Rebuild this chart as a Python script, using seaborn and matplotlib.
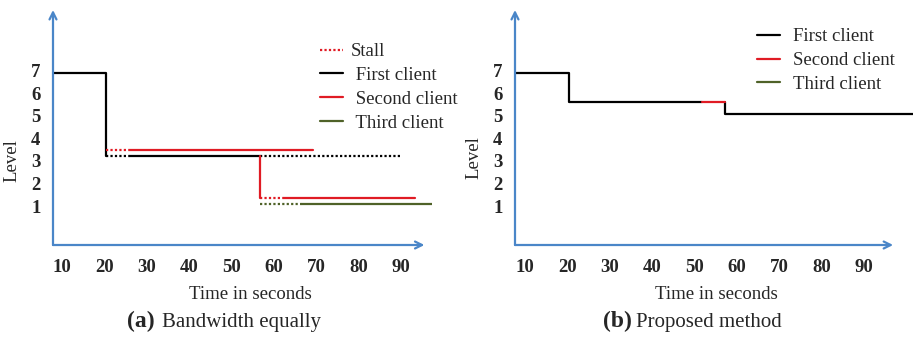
import matplotlib
matplotlib.use('Agg')
import matplotlib.pyplot as plt
import pandas as pd
import seaborn as sns
from matplotlib.lines import Line2D

sns.set_style('white')
plt.rcParams['font.family'] = ['Liberation Serif', 'DejaVu Serif']

# Levels, each path is a list of (time, level) points
# (a) bandwidth shared equally
a_first_play = [[(7.9, 6.9), (20.4, 6.9), (20.4, 3.22)],
                [(26.1, 3.22), (56.8, 3.22)]]
a_first_stall = [[(20.4, 3.22), (26.1, 3.22)],
                 [(56.8, 3.22), (90.3, 3.22)]]
a_second_play = [[(26.1, 3.49), (69.3, 3.49)],
                 [(56.8, 3.22), (56.8, 1.36)],
                 [(62.4, 1.36), (93.4, 1.36)]]
a_second_stall = [[(20.4, 3.49), (26.1, 3.49)],
                  [(56.8, 1.36), (62.4, 1.36)]]
a_third_play = [[(66.7, 1.09), (97.4, 1.09)]]
a_third_stall = [[(56.8, 1.09), (66.7, 1.09)]]

# (b) proposed method
b_first_play = [[(7.6, 6.9), (20.4, 6.9), (20.4, 5.62), (51.7, 5.62)],
                [(57.2, 5.62), (57.2, 5.09), (101.6, 5.09)]]
b_second_play = [[(51.7, 5.62), (57.2, 5.62)]]

x_ticks = [10, 20, 30, 40, 50, 60, 70, 80, 90]
y_ticks = [1, 2, 3, 4, 5, 6, 7]

colors = {'First client': 'black', 'Second client': '#e01b24', 'Third client': '#4f6228'}
blue = '#4a86c8'


def to_rows(paths, client, kind):
    rows = []
    for i, path in enumerate(paths):
        for t, lvl in path:
            rows.append({'client': client, 'kind': kind, 'seg': f'{client}-{kind}-{i}',
                         't': t, 'level': lvl})
    return rows


df_a = pd.DataFrame(to_rows(a_first_play, 'First client', 'play')
                    + to_rows(a_first_stall, 'First client', 'stall')
                    + to_rows(a_second_play, 'Second client', 'play')
                    + to_rows(a_second_stall, 'Second client', 'stall')
                    + to_rows(a_third_play, 'Third client', 'play')
                    + to_rows(a_third_stall, 'Third client', 'stall'))
df_b = pd.DataFrame(to_rows(b_first_play, 'First client', 'play')
                    + to_rows(b_second_play, 'Second client', 'play'))


def draw_panel(ax, df, xlim, arrow_end):
    sns.lineplot(data=df, x='t', y='level', hue='client', style='kind', units='seg',
                 estimator=None, sort=False, palette=colors,
                 dashes={'play': '', 'stall': (1, 1)}, linewidth=1.6, legend=False, ax=ax)
    ax.set_xlim(*xlim)
    ax.set_ylim(-0.733, 9.71)
    for s in ax.spines.values():
        s.set_visible(False)
    arrow = dict(arrowstyle='->,head_length=0.5,head_width=0.25', color=blue, lw=1.6,
                 shrinkA=0, shrinkB=0)
    ax.annotate('', xy=(0, 1), xytext=(0, 0), xycoords='axes fraction',
                arrowprops=arrow, annotation_clip=False)
    ax.annotate('', xy=(arrow_end, 0), xytext=(0, 0), xycoords='axes fraction',
                arrowprops=arrow, annotation_clip=False)
    ax.set_xticks(x_ticks)
    ax.set_xticklabels([str(v) for v in x_ticks], fontweight='bold', fontsize=13.5)
    ax.set_yticks(y_ticks)
    ax.set_yticklabels([str(v) for v in y_ticks], fontweight='bold', fontsize=13.5)
    ax.tick_params(axis='x', length=0, pad=10)
    ax.tick_params(axis='y', length=0, pad=9)
    ax.set_xlabel('Time in seconds', fontsize=13.5)
    ax.set_ylabel('Level', fontsize=13.5)


fig = plt.figure(figsize=(9.13, 3.39), dpi=100)
ax_a = fig.add_axes([53 / 913, 94 / 339, 379 / 913, 235 / 339])
ax_b = fig.add_axes([515 / 913, 94 / 339, 398 / 913, 235 / 339])

draw_panel(ax_a, df_a, (7.9, 97.4), 0.98)
draw_panel(ax_b, df_b, (7.6, 101.6), 0.95)

ax_a.xaxis.set_label_coords(0.52, -0.173)
ax_a.yaxis.set_label_coords(-0.087, 0.36)
ax_b.xaxis.set_label_coords(0.505, -0.173)
ax_b.yaxis.set_label_coords(-0.083, 0.37)

# legends
h_stall = Line2D([], [], color=colors['Second client'], lw=1.6, dashes=(1, 1))
h_first = Line2D([], [], color=colors['First client'], lw=1.6)
h_second = Line2D([], [], color=colors['Second client'], lw=1.6)
h_third = Line2D([], [], color=colors['Third client'], lw=1.6)

ax_a.legend([h_stall, h_first, h_second, h_third],
            ['Stall', ' First client', ' Second client', ' Third client'],
            loc='upper left', bbox_to_anchor=(320 / 913, 0.873), bbox_transform=fig.transFigure,
            frameon=False, borderpad=0, borderaxespad=0, handlelength=1.23,
            handletextpad=0.43, labelspacing=0.36, prop={'size': 13.5})
ax_b.legend([h_first, h_second, h_third],
            ['First client', 'Second client', 'Third client'],
            loc='upper left', bbox_to_anchor=(757 / 913, 0.917), bbox_transform=fig.transFigure,
            frameon=False, borderpad=0, borderaxespad=0, handlelength=1.23,
            handletextpad=0.69, labelspacing=0.36, prop={'size': 13.5})

# captions
fig.text(155 / 913, 12 / 339, '(a)', ha='right', va='baseline', fontsize=17, fontweight='bold')
fig.text(162 / 913, 12 / 339, 'Bandwidth equally', ha='left', va='baseline', fontsize=15)
fig.text(632 / 913, 12 / 339, '(b)', ha='right', va='baseline', fontsize=17, fontweight='bold')
fig.text(636 / 913, 12 / 339, 'Proposed method', ha='left', va='baseline', fontsize=15)

fig.savefig('out.png', dpi=100)
